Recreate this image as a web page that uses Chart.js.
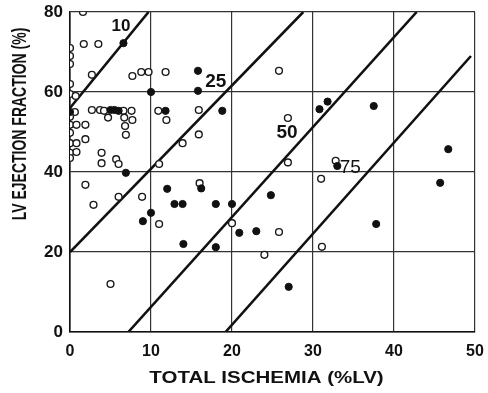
<!DOCTYPE html>
<html>
<head>
<meta charset="utf-8">
<script src="https://cdn.jsdelivr.net/npm/chart.js@4/dist/chart.umd.min.js"></script>
<style>
  html, body { margin: 0; padding: 0; background: #fff; }
  #wrap { width: 488px; height: 393px; position: relative; }
</style>
</head>
<body>
<div id="wrap"><canvas id="c" width="488" height="393"></canvas></div>
<script>
// Axis ranges and ticks
const xTickValues = [0, 10, 20, 30, 40, 50];
const yTickValues = [0, 20, 40, 60, 80];
const xTitle = 'TOTAL ISCHEMIA (%LV)';
const yTitle = 'LV EJECTION FRACTION (%)';

// Patients without the event (open circles): [total ischemia %LV, LVEF %]
const openX = [1.6, 0, 0, 0, 1.7, 3.5, 2.7, 7.7, 8.8, 9.7, 11.8, 0, 0, 0.7, 0.6,
  2.7, 3.7, 4.2, 6.6, 7.6, 10.9, 4.7, 6.7, 7.7, 11.9, 0, 0, 0.8, 1.9, 0,
  6.8, 6.9, 0, 0.8, 1.9, 0, 0.8, 0, 3.9, 3.9, 5.7, 6.0, 1.9, 2.9, 6.0,
  8.9, 11.0, 11.0, 5.0, 16.0, 20.0, 25.8, 24.0, 31.1, 31.0, 26.9, 26.9, 25.8,
  15.9, 15.9, 13.9, 32.8];
const openY = [80, 71, 69, 67, 72, 72, 64.3, 64, 65, 65, 65, 62, 59.5, 59, 55,
  55.5, 55.5, 55.3, 55.3, 55.3, 55.3, 53.6, 53.6, 53, 53, 53.8, 51.8, 51.8, 51.8, 49.8,
  51.5, 49.3, 47.2, 47.2, 48.2, 44.8, 45, 43.5, 44.8, 42.2, 43.2, 42, 36.8, 31.8, 33.8,
  33.8, 27, 42, 12, 37.2, 27.2, 25, 19.3, 21.3, 38.3, 42.4, 53.5, 65.3,
  55.5, 49.4, 47.2, 42.8];

// Patients with the event (filled circles)
const filledX = [6.6, 10.0, 0, 5.0, 5.5, 6.0, 11.8, 6.9, 12.0, 16.2, 12.9, 13.9,
  18.0, 20.0, 10.0, 9.0, 20.9, 23.0, 14.0, 18.0, 24.8, 27.0, 15.8, 15.8, 18.8,
  30.8, 31.8, 33.0, 37.5, 46.7, 45.7, 37.8];
const filledY = [72.2, 60, 55, 55.5, 55.5, 55.3, 55.3, 39.8, 35.8, 35.9, 32, 32,
  32, 32, 29.8, 27.7, 24.8, 25.2, 22, 21.2, 34.2, 11.3, 65.3, 60.3, 55.3,
  55.7, 57.6, 41.5, 56.5, 45.7, 37.3, 27];

// Iso-lines: endpoints in data units, with their labels
const isoNames = ['10', '25', '50', '75'];
const isoStartX = [0, 0, 7.2, 19.2];
const isoStartY = [56, 20, 0, 0];
const isoEndX = [9.7, 28.8, 42.8, 49.5];
const isoEndY = [80, 80, 80, 69];
const isoLabelX = [6.3, 18.0, 26.8, 34.6];
const isoLabelY = [76.5, 62.6, 49.7, 41.0];

const FONT = '"Liberation Sans", Arial, Helvetica, sans-serif';

const toPoints = (xs, ys) => xs.map((x, i) => ({ x: x, y: ys[i] }));

const datasets = [
  {
    label: 'open',
    data: toPoints(openX, openY),
    showLine: false,
    pointStyle: 'circle',
    pointRadius: 3.4,
    pointBorderWidth: 1.4,
    pointBorderColor: '#1a1a1a',
    pointBackgroundColor: '#ffffff',
    order: 1
  },
  {
    label: 'filled',
    data: toPoints(filledX, filledY),
    showLine: false,
    pointStyle: 'circle',
    pointRadius: 3.6,
    pointBorderWidth: 1,
    pointBorderColor: '#111',
    pointBackgroundColor: '#111',
    order: 0
  }
];
isoNames.forEach((name, i) => {
  datasets.push({
    label: 'iso ' + name,
    data: [{ x: isoStartX[i], y: isoStartY[i] }, { x: isoEndX[i], y: isoEndY[i] }],
    showLine: true,
    borderColor: '#111',
    borderWidth: 2.6,
    pointRadius: 0,
    fill: false,
    order: 5
  });
});

// Labels on the iso-lines and the two axis titles
const annotate = {
  id: 'annotate',
  afterDatasetsDraw(chart) {
    const { ctx, scales, chartArea } = chart;
    ctx.save();
    ctx.fillStyle = '#111';
    ctx.textAlign = 'center';
    ctx.textBaseline = 'middle';
    const sizes = [17, 19, 19, 19];
    const weights = ['bold', 'bold', 'bold', 'normal'];
    isoNames.forEach((name, i) => {
      ctx.font = weights[i] + ' ' + sizes[i] + 'px ' + FONT;
      ctx.fillText(name, scales.x.getPixelForValue(isoLabelX[i]), scales.y.getPixelForValue(isoLabelY[i]));
    });
    ctx.restore();

    // x title
    ctx.save();
    ctx.fillStyle = '#111';
    ctx.textAlign = 'center';
    ctx.textBaseline = 'middle';
    ctx.font = 'bold 16px ' + FONT;
    ctx.translate((chartArea.left + chartArea.right) / 2 - 6, chartArea.bottom + 47);
    ctx.scale(1.28, 1);
    ctx.fillText(xTitle, 0, 0);
    ctx.restore();

    // y title
    ctx.save();
    ctx.fillStyle = '#111';
    ctx.textAlign = 'center';
    ctx.textBaseline = 'middle';
    ctx.font = 'bold 14px ' + FONT;
    ctx.translate(20, chartArea.top + 112);
    ctx.rotate(-Math.PI / 2);
    ctx.scale(1, 1.45);
    ctx.fillText(yTitle, 0, 0);
    ctx.restore();
  }
};

new Chart(document.getElementById('c'), {
  type: 'scatter',
  data: { datasets: datasets },
  options: {
    responsive: false,
    animation: false,
    layout: { padding: { left: 0, top: 12, right: 13, bottom: 0 } },
    plugins: { legend: { display: false }, tooltip: { enabled: false } },
    scales: {
      x: {
        type: 'linear',
        min: 0,
        max: 50,
        afterBuildTicks(scale) { scale.ticks = xTickValues.map(v => ({ value: v })); },
        afterFit(scale) { scale.height = 61; scale.paddingLeft = 0; scale.paddingRight = 0; },
        ticks: { color: '#111', padding: 10, font: { family: FONT, size: 16, weight: 'bold' } },
        grid: { color: '#333', lineWidth: 1.2, drawTicks: false },
        border: { display: true, color: '#111', width: 1.6 }
      },
      y: {
        type: 'linear',
        min: 0,
        max: 80,
        afterBuildTicks(scale) { scale.ticks = yTickValues.map(v => ({ value: v })); },
        afterFit(scale) { scale.width = 70; scale.paddingTop = 0; scale.paddingBottom = 0; },
        ticks: { color: '#111', padding: 7, font: { family: FONT, size: 17, weight: 'bold' } },
        grid: { color: '#333', lineWidth: 1.2, drawTicks: false },
        border: { display: true, color: '#111', width: 1.6 }
      }
    }
  },
  plugins: [annotate]
});
</script>
</body>
</html>
